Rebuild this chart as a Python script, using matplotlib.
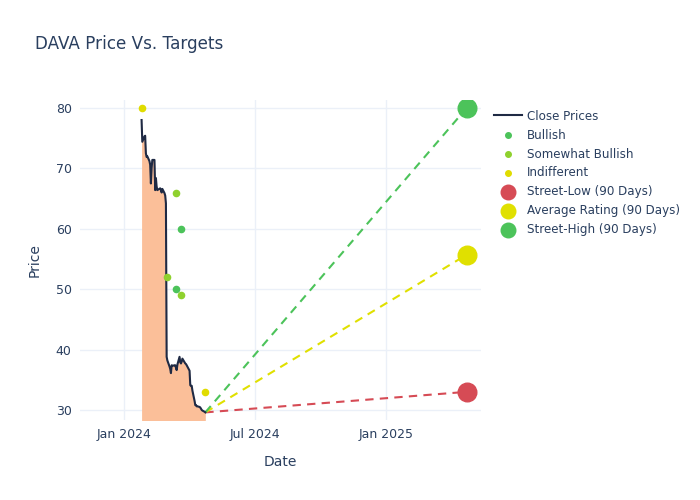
import numpy as np
import pandas as pd
import matplotlib
matplotlib.use('Agg')
import matplotlib.pyplot as plt
import matplotlib.dates as mdates

# close prices
price_dates = ['2024-01-25', '2024-01-26', '2024-01-29', '2024-01-30', '2024-01-31',
               '2024-02-01', '2024-02-02', '2024-02-05', '2024-02-06', '2024-02-07',
               '2024-02-08', '2024-02-09', '2024-02-12', '2024-02-13', '2024-02-14',
               '2024-02-15', '2024-02-16', '2024-02-20', '2024-02-21', '2024-02-22',
               '2024-02-23', '2024-02-26', '2024-02-27', '2024-02-28', '2024-02-29',
               '2024-03-01', '2024-03-04', '2024-03-05', '2024-03-06', '2024-03-07',
               '2024-03-08', '2024-03-11', '2024-03-12', '2024-03-13', '2024-03-14',
               '2024-03-15', '2024-03-18', '2024-03-19', '2024-03-20', '2024-03-21',
               '2024-03-22', '2024-03-25', '2024-03-26', '2024-03-27', '2024-03-28',
               '2024-04-01', '2024-04-02', '2024-04-03', '2024-04-04', '2024-04-05',
               '2024-04-08', '2024-04-09', '2024-04-10', '2024-04-11', '2024-04-12',
               '2024-04-15', '2024-04-16', '2024-04-17', '2024-04-18', '2024-04-19',
               '2024-04-22', '2024-04-23']
close_prices = [78.0, 74.4, 75.3, 75.4, 72.5,
                71.9, 72.0, 71.2, 70.6, 67.5,
                70.0, 71.4, 71.4, 66.4, 68.4,
                67.0, 66.4, 66.7, 66.4, 66.0,
                66.6, 65.9, 65.5, 64.2, 38.8,
                38.2, 37.2, 36.8, 36.1, 37.4,
                37.3, 37.4, 37.4, 37.0, 36.6,
                37.5, 38.8, 37.9, 37.7, 38.0,
                38.5, 37.9, 37.7, 37.6, 37.4,
                36.5, 34.1, 34.0, 34.0, 33.2,
                31.5, 30.8, 30.8, 30.6, 30.6,
                30.5, 30.4, 30.2, 30.0, 29.9,
                29.7, 29.6]

# analyst ratings
bullish_dates = ['2024-03-20', '2024-03-13']
bullish_targets = [60, 50]
somewhat_dates = ['2024-03-13', '2024-03-01', '2024-03-20']
somewhat_targets = [66, 52, 49]
indiff_dates = ['2024-01-25', '2024-04-23']
indiff_targets = [80, 33]

# 90 day targets, one year after last close
target_date = '2025-04-23'
street_low = 33.0
avg_rating = 55.7
street_high = 80.0

text_col = '#2a3f5f'
grid_col = '#ebf0f8'

fig = plt.figure(figsize=(7, 5), dpi=100)
ax = fig.add_axes([80/700, 80/500, 401/700, 320/500])

pd_dates = pd.to_datetime(price_dates)
ax.fill_between(pd_dates, close_prices, 0, color='#fbbf99', lw=0, zorder=1)
ax.plot(pd_dates, close_prices, color='#1f2a44', lw=1.5, zorder=3, label='Close Prices')

ax.scatter(pd.to_datetime(bullish_dates), bullish_targets, s=20, color='#4cc35a', zorder=4, label='Bullish')
ax.scatter(pd.to_datetime(somewhat_dates), somewhat_targets, s=20, color='#8fd12e', zorder=4, label='Somewhat Bullish')
ax.scatter(pd.to_datetime(indiff_dates), indiff_targets, s=20, color='#e0dc00', zorder=4, label='Indifferent')

last_date = pd_dates[-1]
last_price = close_prices[-1]
tdate = pd.Timestamp(target_date)
for val, col, lab in [(street_low, '#d64b55', 'Street-Low (90 Days)'),
                      (avg_rating, '#e0e000', 'Average Rating (90 Days)'),
                      (street_high, '#4cc35a', 'Street-High (90 Days)')]:
    ax.plot([last_date, tdate], [last_price, val], color=col, lw=1.5, ls=(0, (4, 3)), zorder=2)
    ax.scatter([tdate], [val], s=180, color=col, zorder=5, label=lab)

ax.set_xlim(pd.Timestamp('2023-10-31'), pd.Timestamp('2025-05-13'))
ax.set_ylim(28.34, 81.32)
ax.set_yticks([30, 40, 50, 60, 70, 80])
ax.set_xticks(pd.to_datetime(['2024-01-01', '2024-07-01', '2025-01-01']))
ax.xaxis.set_major_formatter(mdates.DateFormatter('%b %Y'))
ax.grid(True, color=grid_col, lw=1)
ax.set_axisbelow(True)
for s in ax.spines.values():
    s.set_visible(False)
ax.tick_params(length=0, colors=text_col, labelsize=9, pad=6)
ax.set_xlabel('Date', color=text_col, fontsize=10, labelpad=10)
ax.set_ylabel('Price', color=text_col, fontsize=10, labelpad=10)

fig.text(35/700, 1 - 44/500, 'DAVA Price Vs. Targets', color=text_col, fontsize=12.1, va='center')

handles, labels = ax.get_legend_handles_labels()
leg = ax.legend(handles, labels, loc='upper left', bbox_to_anchor=(1.02, 0.985),
                frameon=False, fontsize=8.6, labelspacing=0.5, handlelength=2.4,
                handletextpad=0.4, borderaxespad=0)
for h in leg.legend_handles[1:4]:
    h.set_sizes([16])
for h in leg.legend_handles[4:]:
    h.set_sizes([110])
for t in leg.get_texts():
    t.set_color(text_col)

fig.savefig('out.png', dpi=100)
